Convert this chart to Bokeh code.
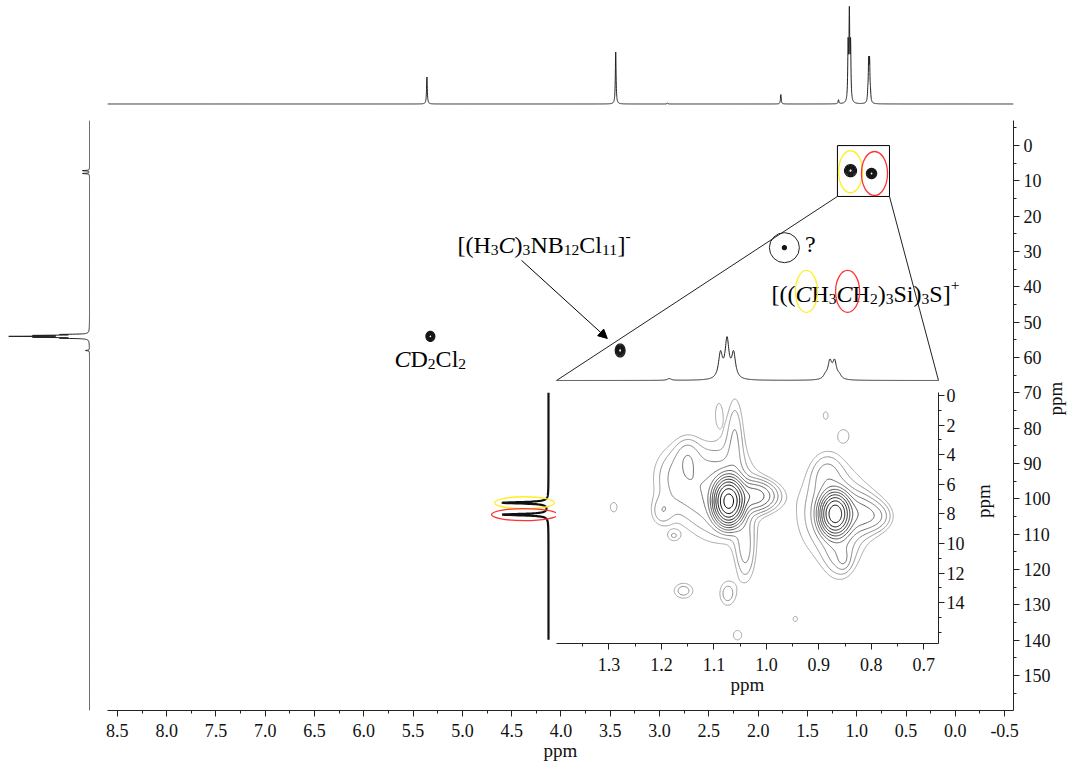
import math
import numpy as np
from bokeh.plotting import figure
from bokeh.layouts import column, row
from bokeh.models import Range1d, FixedTicker, PrintfTickFormatter, Arrow, NormalHead
from bokeh.core.properties import value
from bokeh.embed import file_html
from bokeh.resources import INLINE

SERIF = "Liberation Serif"

# ---------------------------------------------------------------- data
# 1H spectrum: line positions (ppm) and heights (CHDCl2, anion CH3, Et3Si triplet / quartet)
H_PPM = [5.360, 3.445, 2.920, 1.770, 1.185, 1.0875, 1.0750, 1.0625, 0.8875, 0.8790, 0.8700, 0.8610]
H_AMP = [27.0, 52.0, 1.2, 9.5, 4.0, 55.0, 85.0, 55.0, 7.5, 38.0, 38.0, 7.5]
H_HWHM = 0.0045

# 13C projection: CD2Cl2 quintet, anion CH3, Et3Si carbons
C_PPM = [53.46, 53.73, 54.00, 54.27, 54.54, 58.0, 7.1, 7.9]
C_AMP = [24.0, 48.0, 72.0, 48.0, 24.0, 4.0, 7.0, 7.0]
C_HWHM = 0.08

# 13C projection of the expanded region
CZ_PPM = [7.25, 8.05]
CZ_AMP = [46.0, 46.0]
CZ_HWHM = 0.06

# cross peaks of the full spectrum (1H ppm, 13C ppm, widths)
XP_H = [5.325, 3.400, 1.734, 1.063, 0.850]
XP_C = [54.0, 58.0, 28.9, 7.1, 7.9]
XP_SH = [0.020, 0.022, 0.009, 0.027, 0.023]
XP_SC = [0.63, 0.82, 0.25, 0.76, 0.64]

# cross peaks of the expanded region (1H, 13C, height, sigma 1H, sigma 13C)
ZP_H = [1.072, 1.022, 1.090, 1.170, 1.060, 1.040, 0.869, 0.830, 0.870, 0.860, 0.885,
        1.200, 1.150, 0.790,
        1.291, 1.158, 1.074, 1.055, 0.945, 0.887, 0.853, 1.091, 1.177, 0.853]
ZP_C = [7.15, 6.80, 6.60, 5.50, 2.50, 10.5, 8.00, 8.00, 8.00, 10.6, 5.30,
        7.90, 4.00, 8.20,
        7.55, 13.2, 13.4, 16.2, 15.1, 1.35, 2.70, 1.15, 9.50, 11.1]
ZP_A = [1.00, 0.090, 0.035, 0.022, 0.020, 0.025, 0.75, 0.050, 0.030, 0.020, 0.018,
        0.016, 0.015, 0.020,
        0.014, 0.020, 0.020, 0.015, 0.013, 0.013, 0.014, 0.013, 0.013, 0.013]
ZP_SH = [0.014, 0.025, 0.050, 0.035, 0.012, 0.014, 0.014, 0.030, 0.050, 0.020, 0.020,
         0.015, 0.015, 0.020,
         0.009, 0.016, 0.013, 0.010, 0.007, 0.007, 0.011, 0.007, 0.010, 0.008]
ZP_SC = [0.75, 0.60, 2.20, 1.60, 2.00, 1.60, 0.70, 0.80, 2.30, 1.20, 1.00,
         0.70, 0.80, 0.60,
         0.45, 0.45, 0.70, 0.40, 0.30, 0.40, 0.45, 0.80, 0.30, 0.45]

# axis ticks
X_TICKS = [8.5, 8.0, 7.5, 7.0, 6.5, 6.0, 5.5, 5.0, 4.5, 4.0, 3.5, 3.0, 2.5, 2.0, 1.5, 1.0, 0.5, 0.0, -0.5]
Y_TICKS = [0, 10, 20, 30, 40, 50, 60, 70, 80, 90, 100, 110, 120, 130, 140, 150]
XZ_TICKS = [1.3, 1.2, 1.1, 1.0, 0.9, 0.8, 0.7]
YZ_TICKS = [0, 2, 4, 6, 8, 10, 12, 14]

# ---------------------------------------------------------------- geometry
X_MAIN = (8.60, -0.59)        # 1H ppm at left / right edge of the 2D frame
C_MAIN = (-7.1, 159.9)        # 13C ppm at top / bottom edge
FRAME_W, FRAME_H = 906, 590
FRAME_X0, FRAME_Y0 = 107, 120
X_ZOOM = (1.40, 0.672)
C_ZOOM = (-0.2, 16.76)
ZFRAME_W, ZFRAME_H = 382, 251
ZBLOCK_X, ZBLOCK_Y = 488, 330
ZLEFT_W, ZTOP_H, ZGAP = 68, 52, 10
ZBASE = 50                     # baseline of the expanded 1H trace, px below block top
ZGAIN = 0.45                   # vertical gain of the expanded 1H trace


def lorentz_sum(grid, centers, heights, hwhm):
    g = np.asarray(grid, dtype=float)[:, None]
    c = np.asarray(centers, dtype=float)[None, :]
    h = np.asarray(heights, dtype=float)[None, :]
    return (h / (1.0 + ((g - c) / hwhm) ** 2)).sum(axis=1)


def gauss_field(xs, ys, hs, cs, amps, shs, scs):
    X, Y = np.meshgrid(xs, ys)
    Z = np.zeros_like(X)
    for h, c, a, sh, sc in zip(hs, cs, amps, shs, scs):
        Z += a * np.exp(-0.5 * ((X - h) / sh) ** 2 - 0.5 * ((Y - c) / sc) ** 2)
    return Z


def main_x(px):
    return X_MAIN[0] + (px - FRAME_X0) * (X_MAIN[1] - X_MAIN[0]) / FRAME_W


def main_c(py):
    return C_MAIN[0] + (py - FRAME_Y0) * (C_MAIN[1] - C_MAIN[0]) / FRAME_H


PX_PER_H = FRAME_W / (X_MAIN[0] - X_MAIN[1])
PX_PER_C = FRAME_H / (C_MAIN[1] - C_MAIN[0])

GLYPH_EM = {"[": 0.333, "]": 0.333, "(": 0.333, ")": 0.333, "H": 0.722, "C": 0.667,
            "N": 0.722, "B": 0.667, "l": 0.278, "D": 0.722, "S": 0.556, "i": 0.278,
            "+": 0.564, "-": 0.333, "?": 0.444, " ": 0.25}


def rich_text(fig, x, y, parts, size, color="black"):
    """Draw a formula with italic / sub / superscript pieces side by side."""
    off = 0.0
    spans = []
    for txt, kind in parts:
        fs = size * 0.65 if kind in ("sub", "sup") else size
        dy = 0.2 * size if kind == "sub" else (-0.4 * size if kind == "sup" else 0.0)
        style = "italic" if kind == "i" else "normal"
        spans.append((txt, fs, dy, style, off, kind))
        off += sum(GLYPH_EM.get(ch, 0.5) for ch in txt) * fs
    for style in ("normal", "italic"):
        for fs in sorted({s[1] for s in spans}):
            sel = [s for s in spans if s[3] == style and s[1] == fs]
            if not sel:
                continue
            fig.text(x=[x] * len(sel), y=[y] * len(sel), text=[s[0] for s in sel],
                     x_offset=[s[4] for s in sel], y_offset=[s[2] for s in sel],
                     text_font=value(SERIF), text_font_size=f"{fs:.1f}px",
                     text_font_style=style, text_align="left",
                     text_baseline="alphabetic", text_color=color)
    return spans


def style_axis(ax, size=18, label_size=19):
    ax.major_label_text_font = SERIF
    ax.major_label_text_font_size = f"{size}px"
    ax.major_label_text_color = "#111111"
    ax.axis_label_text_font = SERIF
    ax.axis_label_text_font_size = f"{label_size}px"
    ax.axis_label_text_font_style = "normal"
    ax.axis_label_text_color = "#111111"
    ax.axis_line_color = "#222222"
    ax.major_tick_line_color = "#222222"
    ax.minor_tick_line_color = "#222222"
    ax.major_tick_in = 0
    ax.major_tick_out = 6
    ax.minor_tick_in = 0
    ax.minor_tick_out = 3


def bare_fig(**kw):
    f = figure(output_backend="svg", toolbar_location=None,
               x_axis_location=None, y_axis_location=None, **kw)
    f.outline_line_color = None
    f.grid.visible = False
    return f


xr = Range1d(*X_MAIN)
yr = Range1d(C_MAIN[1], C_MAIN[0])

# ---------------------------------------------------------------- 1H trace on top
h_grid = np.union1d(np.linspace(X_MAIN[1], X_MAIN[0], 9200), H_PPM)
h_trace = lorentz_sum(h_grid, H_PPM, H_AMP, H_HWHM)
top = bare_fig(frame_width=FRAME_W, frame_height=120, x_range=xr,
               y_range=Range1d(-16.5, 103.5),
               min_border_left=FRAME_X0, min_border_right=66,
               min_border_top=0, min_border_bottom=0)
top.line(h_grid, h_trace, line_color="#222222", line_width=1)

# ---------------------------------------------------------------- 13C trace on the left
c_grid = np.union1d(np.linspace(C_MAIN[0], C_MAIN[1], 8400), C_PPM)
c_trace = lorentz_sum(c_grid, C_PPM, C_AMP, C_HWHM)
side = bare_fig(frame_width=90, frame_height=FRAME_H, x_range=Range1d(89, -1), y_range=yr,
                min_border_left=0, min_border_right=0, min_border_top=0, min_border_bottom=54)
side.line(c_trace, c_grid, line_color="#222222", line_width=1)

# ---------------------------------------------------------------- 2D map
p = figure(frame_width=FRAME_W, frame_height=FRAME_H, x_range=xr, y_range=yr,
           x_axis_location="below", y_axis_location="right",
           min_border_left=17, min_border_right=66, min_border_top=0, min_border_bottom=54,
           output_backend="svg", toolbar_location=None)
p.outline_line_color = None
p.grid.visible = False
xa = p.xaxis[0]
style_axis(xa)
xa.ticker = FixedTicker(ticks=X_TICKS, minor_ticks=list(np.arange(-0.5, 8.6, 0.25)))
xa.formatter = PrintfTickFormatter(format="%.1f")
xa.axis_label = "ppm"
xa.major_label_standoff = 7
xa.axis_label_standoff = 0
ya = p.yaxis[0]
style_axis(ya)
ya.ticker = FixedTicker(ticks=Y_TICKS, minor_ticks=list(range(-5, 160, 5)))
ya.axis_label = "ppm"
ya.axis_label_orientation = math.pi / 2
ya.major_label_standoff = 4
ya.axis_label_standoff = 2

SPOT_LEVELS = [0.08, 0.16, 0.26, 0.38, 0.50, 0.64, 0.80]
for h, c, sh, sc in zip(XP_H, XP_C, XP_SH, XP_SC):
    gx = np.linspace(h - 4 * sh, h + 4 * sh, 61)
    gy = np.linspace(c - 4 * sc, c + 4 * sc, 61)
    z = gauss_field(gx, gy, [h], [c], [1.0], [sh], [sc])
    p.contour(x=gx, y=gy, z=z, levels=SPOT_LEVELS, line_color="#151515", line_width=1.2)

# expansion box and rings on the Et3Si cross peaks
BOX_H = (1.196, 0.668)
BOX_C = (0.0, 14.4)
p.quad(left=BOX_H[0], right=BOX_H[1], top=BOX_C[0], bottom=BOX_C[1],
       fill_color=None, line_color="black", line_width=1)
p.ellipse(x=[XP_H[3]], y=[XP_C[3] + 0.3], width=24, height=42, width_units="screen",
          height_units="screen", fill_color=None, line_color="#ffee22", line_width=1.3)
p.ellipse(x=[XP_H[4] - 0.03], y=[XP_C[4]], width=26, height=44, width_units="screen",
          height_units="screen", fill_color=None, line_color="#ff3333", line_width=1.3)
p.ellipse(x=[XP_H[2]], y=[XP_C[2]], width=30, height=30, width_units="screen",
          height_units="screen", fill_color=None, line_color="#222222", line_width=1)

# lines from the box to the expanded view
link_y = main_c(ZBLOCK_Y + ZBASE)
link_x0 = main_x(ZBLOCK_X + ZLEFT_W)
link_x1 = main_x(ZBLOCK_X + ZLEFT_W + ZFRAME_W)
p.segment(x0=[BOX_H[0], BOX_H[1]], y0=[BOX_C[1], BOX_C[1]],
          x1=[link_x0, link_x1], y1=[link_y, link_y], line_color="#222222", line_width=1)

# labels
FS = 24
rich_text(p, 5.05, 28.2, [("[(H", "n"), ("3", "sub"), ("C", "i"), (")", "n"), ("3", "sub"),
                          ("NB", "n"), ("12", "sub"), ("Cl", "n"), ("11", "sub"), ("]", "n"),
                          ("-", "sup")], FS)
rich_text(p, 5.689, 60.5, [("C", "i"), ("D", "n"), ("2", "sub"), ("Cl", "n"), ("2", "sub")], FS)
rich_text(p, 1.525, 27.9, [("?", "n")], FS)
T3_X, T3_Y = 1.865, 42.1
spans = rich_text(p, T3_X, T3_Y, [("[((", "n"), ("C", "i"), ("H", "n"), ("3", "sub"), ("C", "i"),
                                  ("H", "n"), ("2", "sub"), (")", "n"), ("3", "sub"), ("Si)", "n"),
                                  ("3", "sub"), ("S]", "n"), ("+", "sup")], FS)
ring_cols = ["#ffee22", "#ff3333"]
ic = [s for s in spans if s[5] == "i"]
for s, col, w in zip(ic, ring_cols, [22, 24]):
    cx = T3_X - (s[4] + 0.667 * s[1] / 2 + 3) / PX_PER_H
    cy = T3_Y - 0.12 * FS / PX_PER_C
    p.ellipse(x=[cx], y=[cy], width=w, height=42, width_units="screen", height_units="screen",
              fill_color=None, line_color=col, line_width=1.3)

p.add_layout(Arrow(end=NormalHead(size=9, fill_color="black", line_color="black"),
                   x_start=4.40, y_start=32.5, x_end=XP_H[1] + 0.13, y_end=XP_C[1] - 3.4,
                   line_color="black", line_width=1))

# ---------------------------------------------------------------- expanded view
xzr = Range1d(*X_ZOOM)
yzr = Range1d(C_ZOOM[1], C_ZOOM[0])

zt = bare_fig(frame_width=ZFRAME_W, frame_height=ZTOP_H, x_range=xzr,
              y_range=Range1d(-(ZTOP_H - ZBASE) / ZGAIN, ZBASE / ZGAIN),
              min_border_left=ZLEFT_W, min_border_right=67, min_border_top=0, min_border_bottom=0)
zt.background_fill_alpha = 0
zt.border_fill_alpha = 0
hz_grid = np.union1d(np.linspace(X_ZOOM[1], X_ZOOM[0], 1600), H_PPM)
hz_grid = hz_grid[(hz_grid >= X_ZOOM[1]) & (hz_grid <= X_ZOOM[0])]
zt.line(hz_grid, lorentz_sum(hz_grid, H_PPM, H_AMP, H_HWHM), line_color="#222222", line_width=1)

zl = bare_fig(frame_width=ZLEFT_W, frame_height=ZFRAME_H, x_range=Range1d(60, -8), y_range=yzr,
              min_border_left=0, min_border_right=0, min_border_top=ZGAP, min_border_bottom=56)
zl.background_fill_alpha = 0
zl.border_fill_alpha = 0
cz_grid = np.union1d(np.linspace(-0.2, 16.5, 1700), CZ_PPM)
zl.line(lorentz_sum(cz_grid, CZ_PPM, CZ_AMP, CZ_HWHM), cz_grid, line_color="#111111", line_width=2.2)
zl.ellipse(x=[24, 24], y=[CZ_PPM[0], CZ_PPM[1]], width=[60, 66], height=[12, 12],
           width_units="screen", height_units="screen", fill_color=None,
           line_color=["#ffee22", "#ff3333"], line_width=1.3)

zp = figure(frame_width=ZFRAME_W, frame_height=ZFRAME_H, x_range=xzr, y_range=yzr,
            x_axis_location="below", y_axis_location="right",
            min_border_left=0, min_border_right=67, min_border_top=ZGAP, min_border_bottom=56,
            output_backend="svg", toolbar_location=None)
zp.outline_line_color = None
zp.grid.visible = False
zp.background_fill_alpha = 0
zp.border_fill_alpha = 0
zxa = zp.xaxis[0]
style_axis(zxa)
zxa.ticker = FixedTicker(ticks=XZ_TICKS, minor_ticks=list(np.arange(0.65, 1.41, 0.05)))
zxa.formatter = PrintfTickFormatter(format="%.1f")
zxa.axis_label = "ppm"
zxa.major_label_standoff = 8
zxa.axis_label_standoff = 0
zya = zp.yaxis[0]
style_axis(zya)
zya.ticker = FixedTicker(ticks=YZ_TICKS, minor_ticks=list(range(0, 17)))
zya.axis_label = "ppm"
zya.axis_label_orientation = math.pi / 2
zya.major_label_standoff = 2
zya.axis_label_standoff = 16

gx = np.linspace(X_ZOOM[1], X_ZOOM[0], 360)
gy = np.linspace(C_ZOOM[0], C_ZOOM[1], 260)
Z = gauss_field(gx, gy, ZP_H, ZP_C, ZP_A, ZP_SH, ZP_SC)
LEVELS = list(0.011 * (0.852 / 0.011) ** (np.arange(12) / 11))
grays = [int(165 * (1 - k / 11) ** 1.3) for k in range(12)]
LEVEL_COLORS = ["#%02x%02x%02x" % (g, g, g) for g in grays]
zp.contour(x=gx, y=gy, z=Z, levels=LEVELS, line_color=LEVEL_COLORS, line_width=1)

# ---------------------------------------------------------------- layout
main_block = column(top, row(side, p))
zoom_block = column(zt, row(zl, zp))
zoom_block.margin = (ZBLOCK_Y - 764, 0, 0, ZBLOCK_X)
page = column(main_block, zoom_block)

open("out.html", "w").write(file_html(page, INLINE, title="HSQC"))
